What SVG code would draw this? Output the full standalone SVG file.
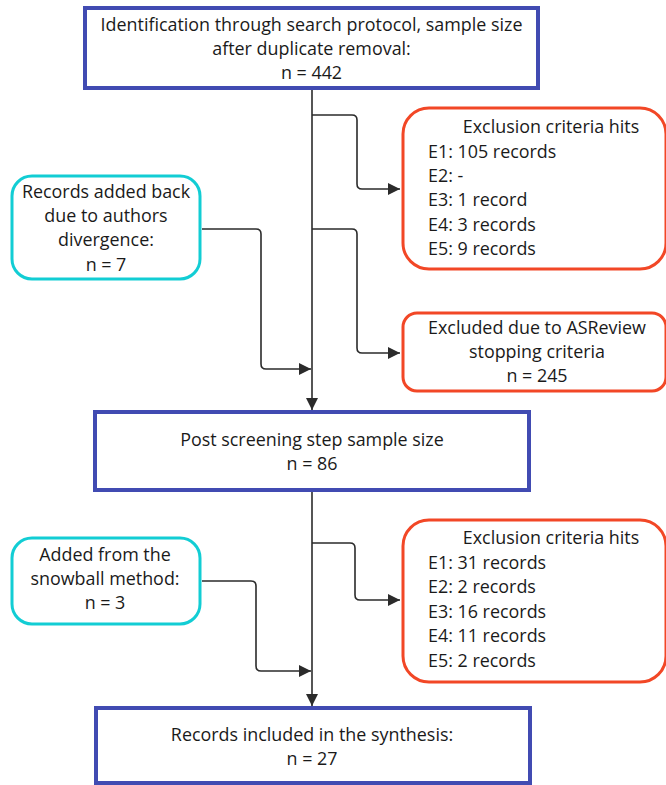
<svg xmlns="http://www.w3.org/2000/svg" width="666" height="785" viewBox="0 0 666 785">
<defs>
<style>
text{font-family:"Open Sans","Noto Sans","DejaVu Sans",sans-serif;font-size:17.9px;fill:#1a1a1a}
.c{text-anchor:middle}
.main{fill:#fff;stroke:#414BB2;stroke-width:4}
.exc{fill:#fff;stroke:#F24726;stroke-width:3}
.add{fill:#fff;stroke:#12CDD4;stroke-width:3}
.ln{fill:none;stroke:#2b2b2b;stroke-width:1.6}
</style>
<marker id="ah" viewBox="0 0 10 10" refX="10" refY="5" markerWidth="12" markerHeight="12" markerUnits="userSpaceOnUse" orient="auto">
<path d="M0,0 L10,5 L0,10 z" fill="#2b2b2b"/>
</marker>
</defs>
<rect width="666" height="785" fill="#fff"/>
<g id="connectors">
<path class="ln" d="M312,88 V410" marker-end="url(#ah)"/>
<path class="ln" d="M312,115 H352 Q357,115 357,120 V184 Q357,189 362,189 H400" marker-end="url(#ah)"/>
<path class="ln" d="M312,229 H352 Q357,229 357,234 V348 Q357,353 362,353 H400" marker-end="url(#ah)"/>
<path class="ln" d="M202,229 H256 Q261,229 261,234 V364 Q261,369 266,369 H311" marker-end="url(#ah)"/>
<path class="ln" d="M312,491 V706" marker-end="url(#ah)"/>
<path class="ln" d="M312,543 H350 Q355,543 355,548 V595 Q355,600 360,600 H400" marker-end="url(#ah)"/>
<path class="ln" d="M202,581 H251 Q256,581 256,586 V666 Q256,671 261,671 H311" marker-end="url(#ah)"/>
</g>
<g id="n_identification">
<rect class="main" x="85" y="8" width="453" height="80"/>
<text class="c" x="311.5" y="31">Identification through search protocol, sample size</text>
<text class="c" x="311.5" y="55">after duplicate removal:</text>
<text class="c" x="311.5" y="79">n = 442</text>
</g>
<g id="n_exclusion1">
<rect class="exc" x="403" y="108" width="263" height="161" rx="26"/>
<text class="c" x="551" y="133">Exclusion criteria hits</text>
<text x="428" y="158">E1: 105 records</text>
<text x="428" y="182">E2: -</text>
<text x="428" y="206">E3: 1 record</text>
<text x="428" y="231">E4: 3 records</text>
<text x="428" y="255">E5: 9 records</text>
</g>
<g id="n_added_back">
<rect class="add" x="12" y="176" width="188" height="103" rx="20"/>
<text class="c" x="106" y="198">Records added back</text>
<text class="c" x="106" y="222">due to authors</text>
<text class="c" x="106" y="246">divergence:</text>
<text class="c" x="106" y="271">n = 7</text>
</g>
<g id="n_asreview">
<rect class="exc" x="403" y="313" width="263" height="78" rx="14"/>
<text class="c" x="537" y="334">Excluded due to ASReview</text>
<text class="c" x="537" y="358">stopping criteria</text>
<text class="c" x="537" y="382">n = 245</text>
</g>
<g id="n_post_screening">
<rect class="main" x="95" y="412" width="434" height="78"/>
<text class="c" x="312" y="446">Post screening step sample size</text>
<text class="c" x="312" y="470">n = 86</text>
</g>
<g id="n_exclusion2">
<rect class="exc" x="403" y="520" width="263" height="162" rx="26"/>
<text class="c" x="551" y="544">Exclusion criteria hits</text>
<text x="428" y="569">E1: 31 records</text>
<text x="428" y="593">E2: 2 records</text>
<text x="428" y="618">E3: 16 records</text>
<text x="428" y="642">E4: 11 records</text>
<text x="428" y="667">E5: 2 records</text>
</g>
<g id="n_snowball">
<rect class="add" x="12" y="538" width="188" height="86" rx="20"/>
<text class="c" x="105" y="561">Added from the</text>
<text class="c" x="105" y="585">snowball method:</text>
<text class="c" x="105" y="609">n = 3</text>
</g>
<g id="n_included">
<rect class="main" x="96" y="708" width="434" height="75"/>
<text class="c" x="312" y="741">Records included in the synthesis:</text>
<text class="c" x="312" y="765">n = 27</text>
</g>
</svg>
